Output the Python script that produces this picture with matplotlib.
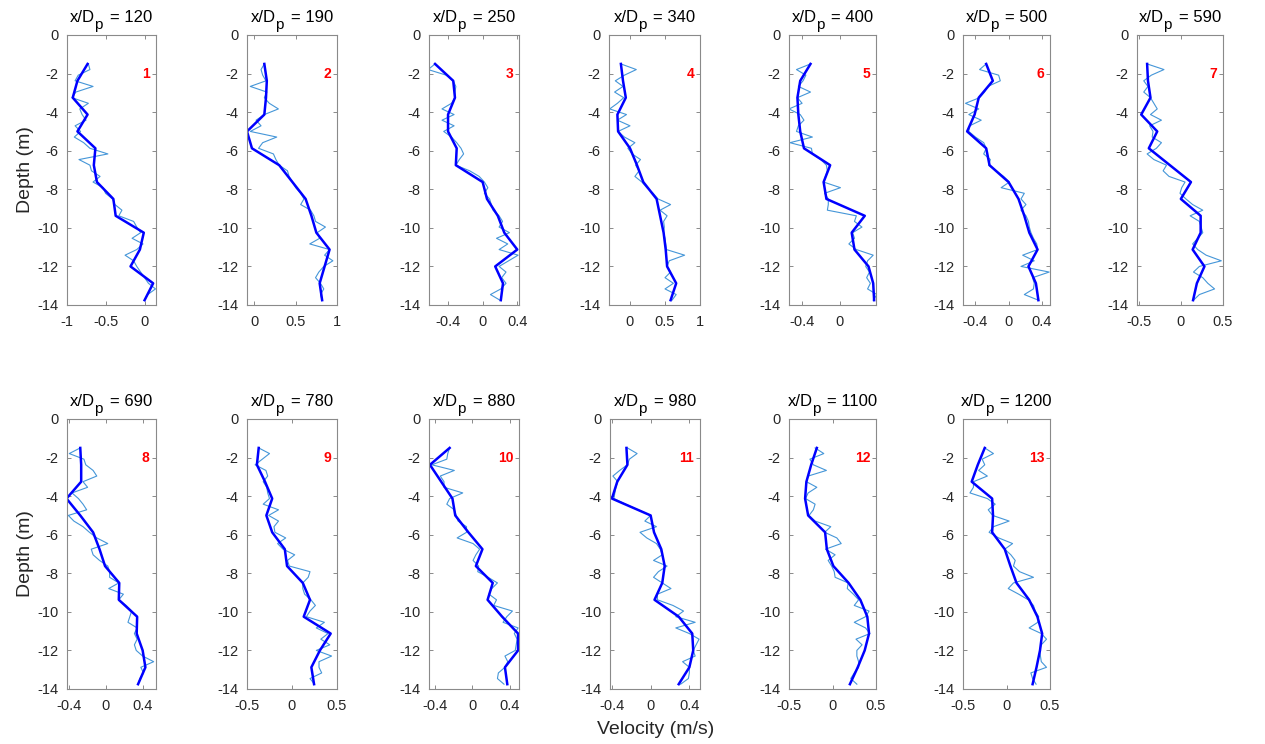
import numpy as np
import matplotlib
matplotlib.use('Agg')
import matplotlib.pyplot as plt
from matplotlib.ticker import FormatStrFormatter
import matplotlib.transforms as mtransforms

plt.rcParams['font.family'] = ['Liberation Sans', 'DejaVu Sans']
plt.rcParams['axes.unicode_minus'] = False

# stations x/Dp
stations = [120, 190, 250, 340, 400, 500, 590, 690, 780, 880, 980, 1100, 1200]

# depth sampling (m): binned mean profile and raw profile
depth_mean = np.linspace(-1.5, -13.75, 15)
depth_raw = np.linspace(-1.5, -13.75, 43)

# mean (thick) velocity profiles, m/s
mean_1 = [-0.73, -0.86, -0.92, -0.73, -0.86, -0.63, -0.65, -0.61, -0.40, -0.37, -0.01, -0.06, -0.18, 0.11, 0.0]
mean_2 = [0.12, 0.15, 0.14, 0.12, -0.09, -0.03, 0.30, 0.46, 0.62, 0.69, 0.75, 0.91, 0.85, 0.79, 0.82]
mean_3 = [-0.55, -0.34, -0.32, -0.40, -0.40, -0.30, -0.31, 0.0, 0.05, 0.175, 0.25, 0.40, 0.145, 0.235, 0.21]
mean_4 = [-0.13, -0.10, -0.06, -0.18, -0.17, 0.0, 0.10, 0.19, 0.38, 0.43, 0.48, 0.51, 0.53, 0.66, 0.58]
mean_5 = [-0.31, -0.42, -0.45, -0.44, -0.42, -0.38, -0.10, -0.17, -0.14, 0.27, 0.13, 0.16, 0.31, 0.36, 0.37]
mean_6 = [-0.27, -0.19, -0.36, -0.41, -0.50, -0.27, -0.23, 0.0, 0.12, 0.19, 0.25, 0.35, 0.24, 0.33, 0.36]
mean_7 = [-0.40, -0.39, -0.36, -0.47, -0.28, -0.38, -0.13, 0.12, 0.0, 0.235, 0.235, 0.14, 0.28, 0.19, 0.145]
mean_8 = [-0.28, -0.27, -0.27, -0.43, -0.28, -0.14, -0.07, -0.01, 0.145, 0.14, 0.34, 0.335, 0.40, 0.43, 0.35]
mean_9 = [-0.37, -0.39, -0.30, -0.22, -0.285, -0.22, -0.08, -0.055, 0.12, 0.20, 0.13, 0.43, 0.31, 0.215, 0.245]
mean_10 = [-0.24, -0.45, -0.33, -0.21, -0.18, -0.04, 0.11, 0.04, 0.22, 0.165, 0.32, 0.49, 0.49, 0.35, 0.375]
mean_11 = [-0.25, -0.24, -0.345, -0.40, 0.0, 0.035, 0.11, 0.145, 0.12, 0.04, 0.29, 0.43, 0.44, 0.40, 0.29]
mean_12 = [-0.18, -0.245, -0.30, -0.315, -0.28, -0.085, -0.065, 0.01, 0.185, 0.32, 0.40, 0.42, 0.37, 0.29, 0.20]
mean_13 = [-0.25, -0.33, -0.40, -0.165, -0.155, -0.165, -0.02, 0.045, 0.115, 0.26, 0.355, 0.41, 0.385, 0.345, 0.30]

# raw (thin) velocity profiles, m/s
raw_1 = [-0.72, -0.70, -0.85, -0.89, -0.66, -0.88, -0.93, -0.72, -0.83, -0.80, -0.75, -0.89, -0.82, -0.90,
         -0.78, -0.70, -0.47, -0.84, -0.70, -0.68, -0.57, -0.66, -0.53, -0.50, -0.41, -0.38, -0.29, -0.33,
         -0.14, -0.10, -0.05, -0.16, -0.02, -0.10, -0.25, -0.14, -0.10, -0.05, 0.0, 0.05, 0.14, 0.04, 0.0]
raw_2 = [0.12, 0.08, 0.10, 0.14, -0.05, 0.15, 0.12, 0.18, 0.29, 0.12, 0.02, 0.08, -0.05, 0.27,
         0.10, 0.05, 0.23, 0.26, 0.30, 0.40, 0.42, 0.46, 0.50, 0.56, 0.60, 0.56, 0.68, 0.72,
         0.74, 0.86, 0.76, 0.79, 0.67, 0.91, 0.85, 0.95, 0.84, 0.78, 0.74, 0.80, 0.84, 0.80, 0.82]
raw_3 = [-0.55, -0.63, -0.42, -0.34, -0.31, -0.32, -0.32, -0.36, -0.47, -0.33, -0.47, -0.33, -0.45, -0.36,
         -0.30, -0.25, -0.22, -0.27, -0.31, -0.15, -0.04, 0.02, 0.06, 0.02, 0.08, 0.10, 0.12, 0.19,
         0.23, 0.19, 0.31, 0.16, 0.29, 0.19, 0.41, 0.30, 0.19, 0.27, 0.22, 0.27, 0.21, 0.09, 0.20]
raw_4 = [-0.13, 0.09, -0.08, -0.21, -0.10, -0.22, -0.09, -0.18, -0.29, -0.05, -0.18, 0.00, -0.17, -0.08,
         0.07, -0.03, 0.03, 0.15, 0.08, 0.13, 0.07, 0.17, 0.24, 0.33, 0.40, 0.58, 0.43, 0.53,
         0.48, 0.49, 0.48, 0.50, 0.51, 0.52, 0.78, 0.56, 0.53, 0.58, 0.50, 0.62, 0.50, 0.66, 0.60]
raw_5 = [-0.31, -0.46, -0.36, -0.39, -0.44, -0.31, -0.45, -0.40, -0.54, -0.42, -0.38, -0.44, -0.46, -0.29,
         -0.53, -0.30, -0.29, -0.20, -0.14, -0.13, -0.15, -0.17, 0.01, -0.16, -0.12, -0.12, -0.13, 0.18,
         0.16, 0.24, 0.14, 0.16, 0.10, 0.18, 0.36, 0.30, 0.28, 0.32, 0.29, 0.33, 0.30, 0.40, 0.36]
raw_6 = [-0.27, -0.35, -0.12, -0.10, -0.25, -0.29, -0.35, -0.52, -0.36, -0.48, -0.33, -0.47, -0.48, -0.40,
         -0.30, -0.27, -0.30, -0.22, -0.24, -0.15, -0.06, 0.01, -0.09, 0.19, 0.15, 0.21, 0.15, 0.21,
         0.24, 0.25, 0.27, 0.30, 0.34, 0.35, 0.17, 0.31, 0.15, 0.49, 0.29, 0.31, 0.30, 0.19, 0.36]
raw_7 = [-0.40, -0.20, -0.35, -0.44, -0.39, -0.44, -0.36, -0.32, -0.28, -0.36, -0.23, -0.37, -0.33, -0.34,
         -0.23, -0.29, -0.40, -0.32, -0.17, -0.21, -0.14, 0.05, 0.01, -0.01, 0.06, 0.14, 0.26, 0.11,
         0.22, 0.24, 0.26, 0.20, 0.14, 0.20, 0.30, 0.48, 0.22, 0.15, 0.26, 0.32, 0.40, 0.22, 0.15]
raw_8 = [-0.28, -0.40, -0.24, -0.22, -0.14, -0.10, -0.25, -0.20, -0.37, -0.30, -0.25, -0.21, -0.41, -0.35,
         -0.25, -0.18, -0.10, 0.02, -0.16, -0.14, -0.07, 0.02, 0.04, 0.04, 0.14, 0.03, 0.19, 0.14,
         0.22, 0.28, 0.26, 0.24, 0.34, 0.31, 0.34, 0.31, 0.33, 0.40, 0.52, 0.38, 0.41, 0.37, 0.35]
raw_9 = [-0.37, -0.25, -0.33, -0.41, -0.29, -0.27, -0.32, -0.28, -0.27, -0.25, -0.32, -0.15, -0.26, -0.15,
         -0.20, -0.19, -0.07, -0.16, -0.10, 0.03, -0.05, -0.03, 0.20, 0.18, 0.12, 0.12, 0.14, 0.21,
         0.26, 0.20, 0.16, 0.36, 0.27, 0.40, 0.32, 0.42, 0.27, 0.44, 0.30, 0.30, 0.33, 0.20, 0.25]
raw_10 = [-0.24, -0.26, -0.27, -0.43, -0.19, -0.34, -0.30, -0.30, -0.10, -0.24, -0.27, -0.19, -0.17, -0.15,
          -0.06, -0.06, -0.16, 0.01, 0.08, 0.04, 0.01, 0.07, 0.06, 0.17, 0.27, 0.21, 0.18, 0.26,
          0.23, 0.43, 0.37, 0.33, 0.49, 0.45, 0.48, 0.47, 0.46, 0.35, 0.38, 0.35, 0.28, 0.27, 0.34]
raw_11 = [-0.24, -0.14, -0.22, -0.24, -0.32, -0.39, -0.34, -0.36, -0.37, -0.38, -0.26, -0.13, 0.0, -0.06,
          0.06, -0.11, -0.04, 0.06, 0.10, 0.12, 0.03, 0.17, 0.08, 0.03, 0.12, 0.21, 0.07, 0.07,
          0.23, 0.34, 0.26, 0.46, 0.26, 0.40, 0.50, 0.47, 0.44, 0.46, 0.33, 0.40, 0.40, 0.39, 0.31]
raw_12 = [-0.20, -0.10, -0.26, -0.22, -0.07, -0.28, -0.30, -0.18, -0.28, -0.31, -0.20, -0.22, -0.27, -0.20,
          -0.02, -0.09, 0.05, 0.10, -0.08, 0.03, -0.05, -0.01, 0.02, 0.03, 0.18, 0.17, 0.24, 0.30,
          0.25, 0.42, 0.38, 0.25, 0.38, 0.43, 0.27, 0.34, 0.28, 0.28, 0.30, 0.30, 0.25, 0.21, 0.28]
raw_13 = [-0.25, -0.15, -0.28, -0.25, -0.32, -0.22, -0.38, -0.38, -0.42, -0.22, -0.13, -0.21, -0.16, 0.03,
          -0.15, -0.20, -0.09, 0.07, -0.02, 0.05, 0.10, 0.08, 0.15, 0.31, 0.08, 0.02, 0.14, 0.25,
          0.31, 0.33, 0.37, 0.36, 0.26, 0.40, 0.46, 0.40, 0.38, 0.39, 0.40, 0.46, 0.28, 0.30, 0.34]

means = [mean_1, mean_2, mean_3, mean_4, mean_5, mean_6, mean_7,
         mean_8, mean_9, mean_10, mean_11, mean_12, mean_13]
raws = [raw_1, raw_2, raw_3, raw_4, raw_5, raw_6, raw_7,
        raw_8, raw_9, raw_10, raw_11, raw_12, raw_13]

# x limits and ticks of each panel
xlims = [(-1.0, 0.14), (-0.09, 1.0), (-0.62, 0.42), (-0.3, 1.0), (-0.54, 0.39), (-0.55, 0.5), (-0.52, 0.5),
         (-0.43, 0.54), (-0.5, 0.5), (-0.46, 0.5), (-0.42, 0.51), (-0.5, 0.5), (-0.5, 0.5)]
xticks = [[-1, -0.5, 0], [0, 0.5, 1], [-0.4, 0, 0.4], [0, 0.5, 1], [-0.4, 0], [-0.4, 0, 0.4], [-0.5, 0, 0.5],
          [-0.4, 0, 0.4], [-0.5, 0, 0.5], [-0.4, 0, 0.4], [-0.4, 0, 0.4], [-0.5, 0, 0.5], [-0.5, 0, 0.5]]

# axes layout in pixels (left, width), two rows
W, H = 1265, 744
DPI = 100
lefts = [66.5, 247, 429, 609, 789, 963, 1137, 66.5, 247, 429, 610, 789, 963]
widths = [89, 90, 90, 91, 87, 87, 86, 89, 90, 90, 90, 87, 87]
tops = [35] * 7 + [419] * 6
ax_h = 270

fig = plt.figure(figsize=(W / DPI, H / DPI), dpi=DPI)
renderer = fig.canvas.get_renderer()
frame = '#8a8a8a'
txt = '#262626'


def put_title(ax, value):
    # x/D with a dropped subscript p, the way MATLAB's tex interpreter draws it
    pieces = [('x/D', 12, 0, 0), ('p', 11, -8, -1), ('= %d' % value, 12, 0, 7)]
    texts = []
    for s, size, dy, gap in pieces:
        t = ax.text(0.5, 1.0, s, fontsize=size, color='black', ha='left', va='baseline')
        texts.append(t)
    ws = [t.get_window_extent(renderer).width for t in texts]
    total = sum(ws) + sum(p[3] for p in pieces)
    x = -total / 2
    for t, w, (s, size, dy, gap) in zip(texts, ws, pieces):
        x += gap
        t.set_transform(ax.transAxes + mtransforms.ScaledTranslation(x / DPI, (13.5 + dy) / DPI,
                                                                      fig.dpi_scale_trans))
        x += w


for i in range(13):
    ax = fig.add_axes([lefts[i] / W, 1 - (tops[i] + ax_h) / H, widths[i] / W, ax_h / H])
    ax.plot(raws[i], depth_raw, color='#4596d8', lw=0.8)
    ax.plot(means[i], depth_mean, color='#0000ff', lw=1.8)
    ax.set_xlim(*xlims[i])
    ax.set_ylim(-14, 0)
    ax.set_yticks(range(-14, 1, 2))
    ax.set_xticks(xticks[i])
    ax.xaxis.set_major_formatter(FormatStrFormatter('%g'))
    ax.tick_params(direction='in', top=True, right=True, length=3, width=0.7,
                   color=frame, labelcolor=txt, labelsize=10.5)
    ax.tick_params(axis='x', pad=7)
    ax.tick_params(axis='y', pad=6)
    for s in ax.spines.values():
        s.set_color(frame)
        s.set_linewidth(0.8)
    put_title(ax, stations[i])
    trans = mtransforms.blended_transform_factory(ax.transAxes, ax.transData)
    ax.text(0.935, -2, str(i + 1), transform=trans, color='red', fontsize=10,
            fontweight='bold', ha='right', va='center')
    if i in (0, 7):
        ax.set_ylabel('Depth (m)', fontsize=14, color=txt, labelpad=2)

fig.text(0.518, 0.019, 'Velocity (m/s)', fontsize=14, color=txt, ha='center', va='center')

fig.savefig('out.png', dpi=DPI)
